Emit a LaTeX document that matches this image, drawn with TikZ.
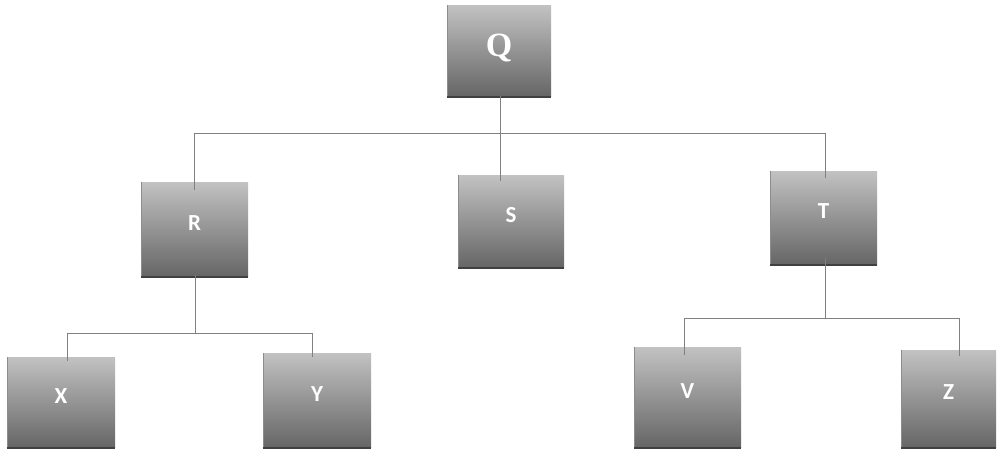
\documentclass[tikz,border=0pt]{standalone}
\usepackage{fontspec}
\setmainfont{Carlito}
\newfontfamily\qfont{Liberation Serif}
\begin{document}
\begin{tikzpicture}[x=1pt,y=-1pt,
  box/.style={rectangle, inner sep=0pt, top color=black!24, bottom color=black!60,
    text=white, text depth=12pt, font=\bfseries\fontsize{23}{23}\selectfont},
  conn/.style={draw=black!50, line width=0.8pt}]
\useasboundingbox (0,0) rectangle (998,450);
\fill[white] (0,0) rectangle (998,450);
% boxes
\node[box, minimum width=104pt, minimum height=91pt, text depth=10pt, font=\qfont\bfseries\fontsize{34}{34}\selectfont] (Q) at (499,50.5) {Q};
\node[box, minimum width=107pt, minimum height=94pt] (R) at (194.5,229) {R};
\node[box, minimum width=106pt, minimum height=92pt] (S) at (511,221) {S};
\node[box, minimum width=107pt, minimum height=93pt] (T) at (823.5,217.5) {T};
\node[box, minimum width=108pt, minimum height=90pt] (X) at (61,402) {X};
\node[box, minimum width=108pt, minimum height=94pt] (Y) at (317,400) {Y};
\node[box, minimum width=107pt, minimum height=100pt] (V) at (687.5,397) {V};
\node[box, minimum width=95pt, minimum height=97pt] (Z) at (948.5,398.5) {Z};
% dark bottom and left edges
\foreach \n in {Q,R,S,T,X,Y,V,Z}{
  \draw[black!75, line width=1.6pt] ([yshift=-0.8pt]\n.south west) -- ([yshift=-0.8pt]\n.south east);
  \draw[black!45, line width=1pt] ([xshift=0.5pt]\n.south west) -- ([xshift=0.5pt]\n.north west);
}
% connectors
\coordinate (qb) at (500,133);
\coordinate (rb) at (195,333);
\coordinate (tb) at (825,318);
\draw[conn] (Q.south -| qb) -- (qb);
\draw[conn] (qb) -| ([yshift=-8pt]R.north);
\draw[conn] (qb) -- ([yshift=-6pt]S.north -| qb);
\draw[conn] (qb) -| ([yshift=-7pt]T.north -| tb);
\draw[conn] ([yshift=1pt]R.south -| rb) -- (rb);
\draw[conn] (rb) -| ([xshift=6pt,yshift=-4pt]X.north);
\draw[conn] (rb) -| ([xshift=-5pt,yshift=-4pt]Y.north);
\draw[conn] ([yshift=6pt]T.south -| tb) -- (tb);
\draw[conn] (tb) -| ([xshift=-3pt,yshift=-8pt]V.north);
\draw[conn] (tb) -| ([xshift=11pt,yshift=-6pt]Z.north);
\end{tikzpicture}
\end{document}
